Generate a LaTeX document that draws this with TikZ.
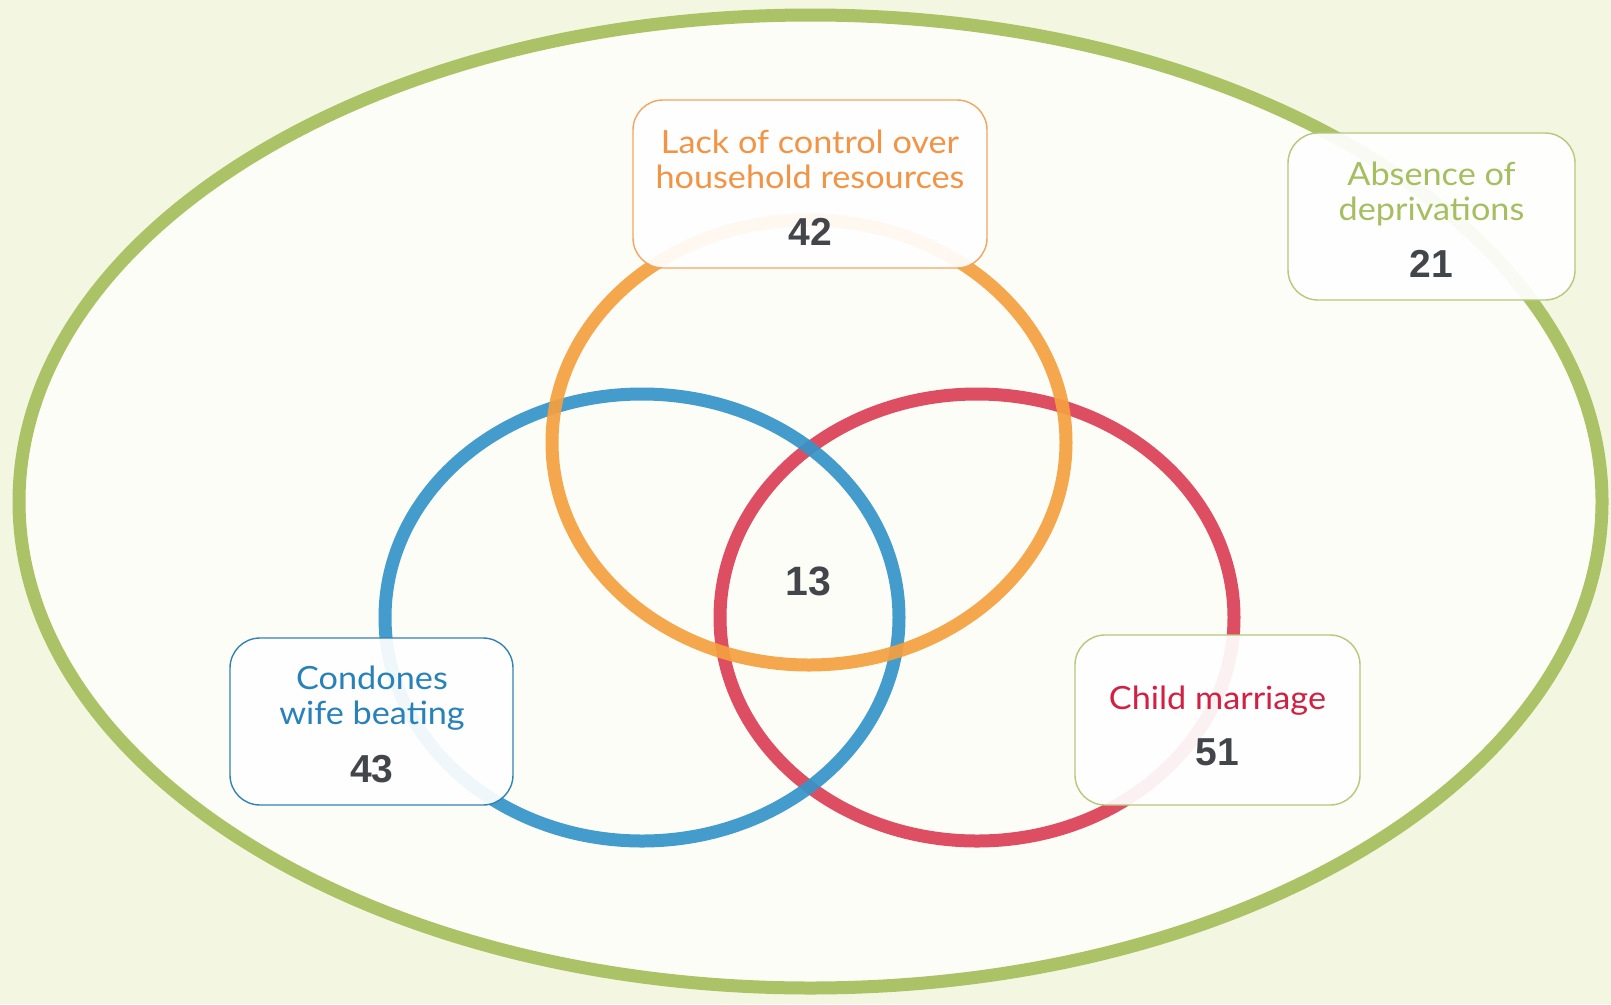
\documentclass[tikz,border=0pt]{standalone}
\usepackage{fontspec}
\newfontfamily\labelfont{Lato}[FakeStretch=1.07]
\newfontfamily\numfont{Liberation Sans}
\definecolor{bgout}{RGB}{243,247,226}
\definecolor{bgin}{RGB}{253,253,247}
\definecolor{greenL}{RGB}{172,194,102}
\definecolor{orangeL}{RGB}{245,160,64}
\definecolor{blueL}{RGB}{52,148,200}
\definecolor{redL}{RGB}{220,64,86}
\definecolor{orangeT}{RGB}{242,148,68}
\definecolor{greenT}{RGB}{165,190,95}
\definecolor{blueT}{RGB}{40,130,185}
\definecolor{redT}{RGB}{210,32,66}
\definecolor{numC}{RGB}{68,69,74}
\definecolor{greenB}{RGB}{182,200,122}
\definecolor{blueB}{RGB}{50,130,180}
\definecolor{orangeB}{RGB}{242,165,95}
\tikzset{
  ring/.style={line width=13pt, opacity=0.92},
  labelbox/.style={rectangle, rounded corners=30pt, line width=1.4pt, fill=white, fill opacity=0.92, inner sep=0pt},
  lbl/.style={anchor=base, inner sep=0pt, font=\labelfont\fontsize{32}{36}\selectfont},
  num/.style={anchor=base, inner sep=0pt, text=numC, font=\numfont\bfseries\fontsize{39}{44}\selectfont},
}
\begin{document}
\begin{tikzpicture}[x=1pt,y=-1pt]
\useasboundingbox (0,0) rectangle (1611,1004);
\fill[bgout] (0,0) rectangle (1611,1004);
\fill[bgin] (810.5,501.5) ellipse [x radius=791.5, y radius=486.5];
\draw[greenL, line width=13pt] (810.5,501.5) ellipse [x radius=791.5, y radius=486.5];
% rings
\draw[ring, redL] (977,617.5) ellipse [x radius=257, y radius=223.5];
\draw[ring, blueL] (642,617.5) ellipse [x radius=257, y radius=223.5];
\draw[ring, orangeL] (809,442.5) ellipse [x radius=257, y radius=222.5];
% boxes
\node[labelbox, draw=orangeB, minimum width=354pt, minimum height=168pt] (obox) at (810,184) {};
\node[labelbox, draw=greenB, minimum width=287pt, minimum height=167pt] (gbox) at (1431.5,216.5) {};
\node[labelbox, draw=blueB, minimum width=283pt, minimum height=167pt] (bbox) at (371.5,721.5) {};
\node[labelbox, draw=greenB, minimum width=285pt, minimum height=170pt] (rbox) at (1217.5,720) {};
% texts
\node[lbl, text=orangeT] (o1) at (810,153) {Lack of control over};
\node[lbl, text=orangeT] (o2) at (810,188) {household resources};
\node[num] (o3) at (810,245) {42};
\node[lbl, text=greenT] (g1) at (1431.5,185) {Absence of};
\node[lbl, text=greenT] (g2) at (1431.5,220) {deprivations};
\node[num] (g3) at (1431.5,277) {21};
\node[lbl, text=blueT] (b1) at (372,689) {Condones};
\node[lbl, text=blueT] (b2) at (372,724) {wife beating};
\node[num] (b3) at (372,782) {43};
\node[lbl, text=redT] (r1) at (1217.5,709) {Child marriage};
\node[num] (r2) at (1217.5,765) {51};
\node[num, font=\numfont\bfseries\fontsize{41}{46}\selectfont] (c13) at (808,595) {13};
\end{tikzpicture}
\end{document}
